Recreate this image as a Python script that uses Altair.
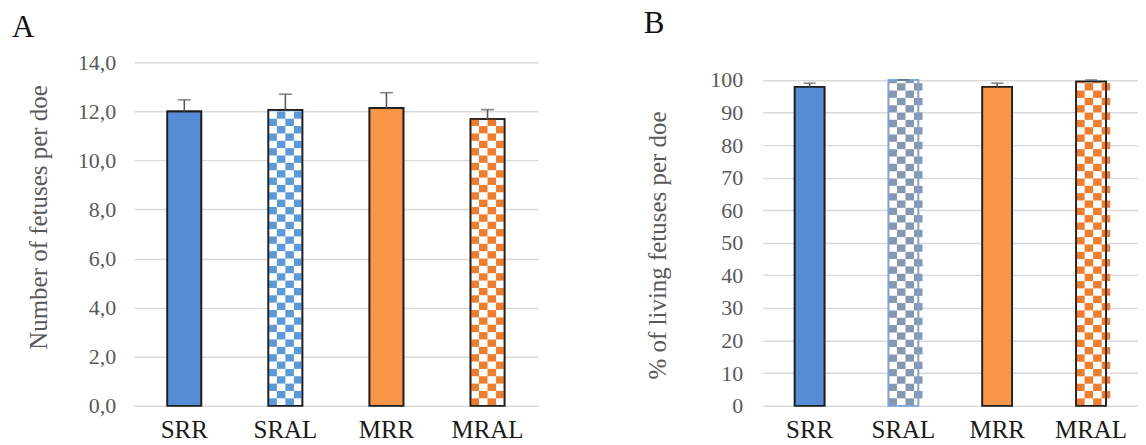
import altair as alt
import pandas as pd

cats = ["SRR", "SRAL", "MRR", "MRAL"]

# Panel A: number of fetuses per doe (mean + upper SE)
a_vals = [12.0, 12.06, 12.14, 11.69]
a_errs = [0.47, 0.64, 0.62, 0.38]
# Panel B: % of living fetuses per doe
b_vals = [97.9, 100.0, 97.9, 99.5]
b_errs = [1.1, 0.0, 1.1, 0.5]

a_ticks = [0, 2, 4, 6, 8, 10, 12, 14]
b_ticks = [0, 10, 20, 30, 40, 50, 60, 70, 80, 90, 100]

patterned = [False, True, False, True]
a_fill = ["#558CD3", "#FFFFFF", "#F79646", "#FFFFFF"]
a_check = ["", "#5A9AD8", "", "#F07D2B"]
a_stroke = ["#1E1E1E", "#1E1E1E", "#1E1E1E", "#1E1E1E"]
b_fill = ["#558CD3", "#FFFFFF", "#F79646", "#FFFFFF"]
b_check = ["", "#8598B2", "", "#F07D2B"]
b_stroke = ["#1E1E1E", "#7EA3D6", "#1E1E1E", "#1E1E1E"]

FONT = "Liberation Serif"
GRAY = "#595959"


def panel(vals, errs, fills, checks, strokes, ticks, ymax, width, height,
          pad_inner, cell_h, ytitle, label_expr, title_x, title_y, letter,
          letter_x, letter_y, cap, ylabel_pad):
    df = pd.DataFrame({
        "cat": cats, "val": vals,
        "top": [v + e for v, e in zip(vals, errs)],
        "fill": fills, "stroke": strokes,
    })
    rows = []
    for c, v, p, col in zip(cats, vals, patterned, checks):
        if not p:
            continue
        j = 0
        while j * cell_h < v:
            y0 = j * cell_h
            y1 = min((j + 1) * cell_h, v)
            for k in range(4):
                if (j + k) % 2 == 0:
                    rows.append({"cat": c, "col": k, "y0": y0, "y1": y1, "color": col})
            j += 1
    cdf = pd.DataFrame(rows)

    xscale = alt.Scale(domain=cats, paddingInner=pad_inner, paddingOuter=pad_inner / 2)
    xaxis = alt.Axis(title=None, labelAngle=0, labelFont=FONT, labelFontSize=25,
                     labelColor="#1A1A1A", labelPadding=12, ticks=False, tickSize=0,
                     domain=False, grid=False)
    yscale = alt.Scale(domain=[0, ymax], nice=False, zero=True)
    yaxis = alt.Axis(values=ticks, title=ytitle, labelExpr=label_expr, grid=True,
                     gridColor="#D9D9D9", gridWidth=1.4, domain=False, ticks=False,
                     tickSize=0, labelPadding=ylabel_pad, labelFont=FONT,
                     labelFontSize=22, labelColor=GRAY, titleFont=FONT,
                     titleFontSize=25, titleColor=GRAY, titleFontWeight="normal",
                     titleX=title_x, titleY=title_y, titleBaseline="alphabetic")

    x = alt.X("cat:N", sort=cats, scale=xscale, axis=xaxis)

    bars = alt.Chart(df).mark_bar(strokeWidth=1.6).encode(
        x=x,
        y=alt.Y("val:Q", scale=yscale, axis=yaxis),
        fill=alt.Fill("fill:N", scale=None),
        stroke=alt.Stroke("stroke:N", scale=None),
    )
    cells = alt.Chart(cdf).mark_rect().encode(
        x=x,
        xOffset=alt.XOffset("col:O", scale=alt.Scale(paddingInner=0, paddingOuter=0)),
        y=alt.Y("y0:Q", scale=yscale, axis=yaxis),
        y2="y1:Q",
        fill=alt.Fill("color:N", scale=None),
    )
    outline = alt.Chart(df).mark_bar(strokeWidth=1.6, fillOpacity=0).encode(
        x=x,
        y=alt.Y("val:Q", scale=yscale, axis=yaxis),
        stroke=alt.Stroke("stroke:N", scale=None),
    )
    err = alt.Chart(df).mark_rule(strokeWidth=1.6, color=GRAY).encode(
        x=x,
        y=alt.Y("val:Q", scale=yscale, axis=yaxis),
        y2="top:Q",
    )
    caps = alt.Chart(df).mark_tick(size=cap, thickness=1.6, color=GRAY).encode(
        x=x,
        y=alt.Y("top:Q", scale=yscale, axis=yaxis),
    )
    lab = alt.Chart(pd.DataFrame({"t": [letter]})).mark_text(
        align="left", baseline="alphabetic", fontSize=31, font=FONT, color="#111111"
    ).encode(text="t:N", x=alt.value(letter_x), y=alt.value(letter_y))

    return alt.layer(bars, cells, outline, err, caps, lab).properties(
        width=width, height=height)


H = 344
A = panel(a_vals, a_errs, a_fill, a_check, a_stroke, a_ticks, 14, 405, H,
          0.663, 0.3, "Number of fetuses per doe",
          "replace(format(datum.value, '.1f'), '.', ',')",
          -87, 155, "A", -122, -25.6, 13, 18)
B = panel(b_vals, b_errs, b_fill, b_check, b_stroke, b_ticks, 105.42, 376, H,
          0.681, 2.25, "% of living fetuses per doe",
          "format(datum.value, 'd')",
          -97, 183, "B", -119, -29, 12, 20)

chart = alt.hconcat(A, B, spacing=106).properties(
    padding={"left": 4, "top": 0, "right": 0, "bottom": 0}
).configure(
    background="white",
    view=alt.ViewConfig(stroke="transparent", strokeWidth=0),
)

chart.save("out.html", embed_options={"renderer": "svg", "actions": False})
